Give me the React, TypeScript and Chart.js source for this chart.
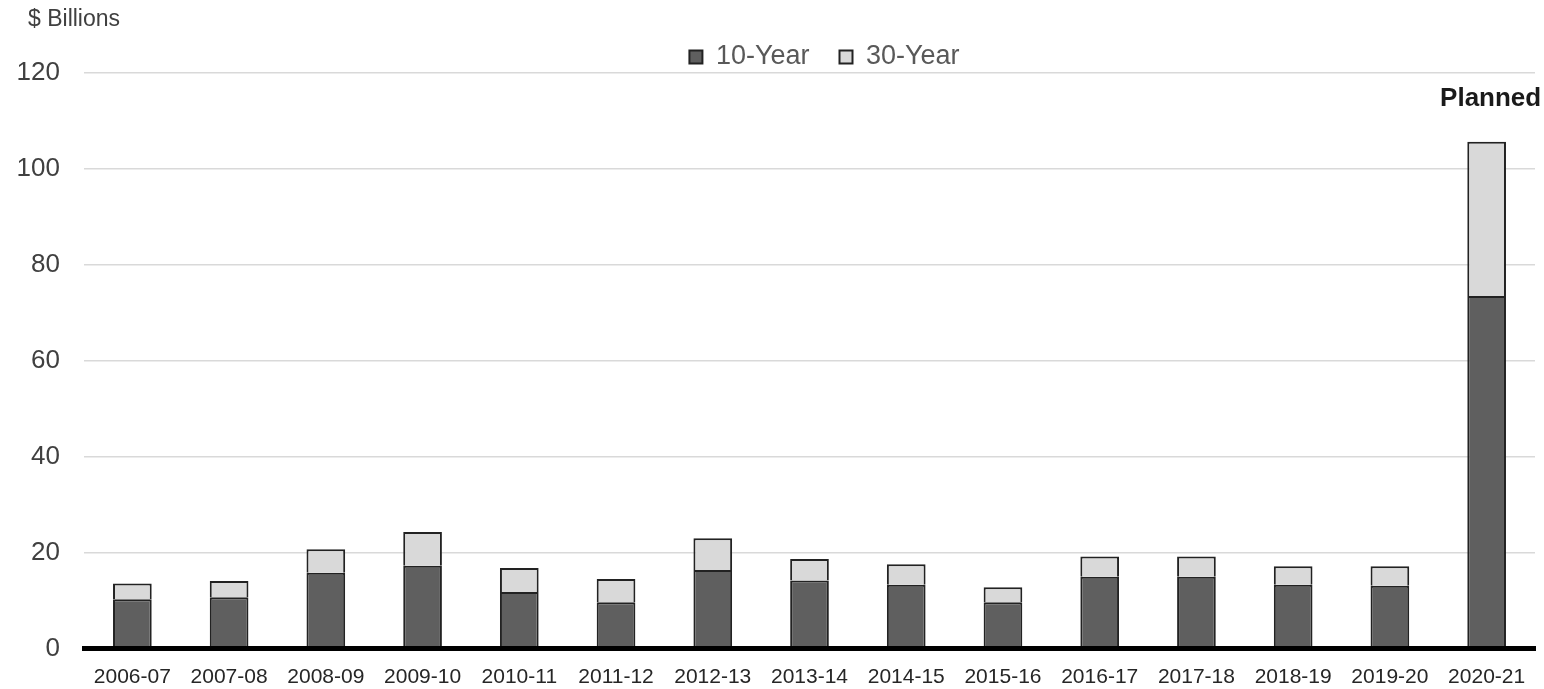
import React, { useEffect, useRef } from "react";
import { Chart, registerables } from "chart.js";

Chart.register(...registerables);

const categories = [
  "2006-07", "2007-08", "2008-09", "2009-10", "2010-11", "2011-12", "2012-13",
  "2013-14", "2014-15", "2015-16", "2016-17", "2017-18", "2018-19", "2019-20", "2020-21",
];
const tenYear = [10.3, 10.7, 15.8, 17.3, 11.8, 9.7, 16.4, 14.2, 13.3, 9.7, 15.0, 15.0, 13.3, 13.1, 73.5];
const thirtyYear = [3.3, 3.4, 4.9, 7.0, 5.0, 4.8, 6.6, 4.5, 4.3, 3.1, 4.2, 4.2, 3.9, 4.1, 32.1];
const seriesNames = ["10-Year", "30-Year"];
const yTicks = [0, 20, 40, 60, 80, 100, 120];
const unitLabel = "$ Billions";
const plannedLabel = "Planned";
const plannedIndex = 14;

const FONT = '"Liberation Sans", Arial, Helvetica, sans-serif';

const annotations = {
  id: "annotations",
  afterLayout(chart: any) {
    const lg = chart.legend;
    if (lg) {
      lg.left += 15;
      lg.right += 15;
    }
  },
  afterDraw(chart: any) {
    const ctx = chart.ctx;
    ctx.save();
    ctx.font = `23px ${FONT}`;
    ctx.fillStyle = "#404040";
    ctx.textBaseline = "middle";
    ctx.textAlign = "left";
    ctx.fillText(unitLabel, 28, 20);
    const meta = chart.getDatasetMeta(1);
    const bar = meta.data[plannedIndex];
    if (bar) {
      ctx.font = `bold 26px ${FONT}`;
      ctx.fillStyle = "#1a1a1a";
      ctx.textAlign = "center";
      ctx.fillText(plannedLabel, bar.x + 4, bar.y - 43);
    }
    ctx.restore();
  },
};

export default function App() {
  const ref = useRef<HTMLCanvasElement>(null);
  useEffect(() => {
    if (!ref.current) return;
    const chart = new Chart(ref.current, {
      type: "bar",
      data: {
        labels: categories,
        datasets: [
          {
            label: seriesNames[0],
            data: tenYear,
            backgroundColor: "#5f5f5f",
            borderColor: "#222222",
            borderWidth: 2,
            borderSkipped: "start",
          },
          {
            label: seriesNames[1],
            data: thirtyYear,
            backgroundColor: "#d9d9d9",
            borderColor: "#222222",
            borderWidth: 2,
            borderSkipped: "start",
          },
        ],
      },
      options: {
        animation: false,
        responsive: true,
        maintainAspectRatio: false,
        layout: { padding: { top: 13.5, left: 0, right: 9, bottom: 0 } },
        datasets: { bar: { categoryPercentage: 1, barPercentage: 0.4 } },
        plugins: {
          title: { display: false },
          tooltip: { enabled: false },
          legend: {
            display: true,
            position: "top",
            fullSize: false,
            maxHeight: 59.2,
            labels: {
              boxWidth: 13,
              boxHeight: 13,
              padding: 30,
              color: "#595959",
              font: { family: FONT, size: 27 },
            },
          },
        },
        scales: {
          x: {
            stacked: true,
            grid: { display: false, drawTicks: false },
            border: { display: true, color: "#000000", width: 5, z: 1 },
            ticks: {
              color: "#262626",
              font: { family: FONT, size: 21 },
              padding: 16,
              maxRotation: 0,
              autoSkip: false,
            },
            afterFit: (s: any) => {
              s.height = 40.3;
            },
          },
          y: {
            stacked: true,
            min: 0,
            max: 120,
            afterBuildTicks: (s: any) => {
              s.ticks = yTicks.map((v) => ({ value: v }));
            },
            grid: { color: "#d9d9d9", lineWidth: 1.5, drawTicks: false },
            border: { display: false },
            ticks: {
              color: "#404040",
              font: { family: FONT, size: 26 },
              padding: 24,
            },
            afterFit: (s: any) => {
              s.width = 84;
            },
          },
        },
      },
      plugins: [annotations],
    });
    return () => chart.destroy();
  }, []);
  return (
    <div style={{ position: "fixed", left: 0, top: 0, width: 1544, height: 689, background: "#ffffff" }}>
      <canvas ref={ref} />
    </div>
  );
}
